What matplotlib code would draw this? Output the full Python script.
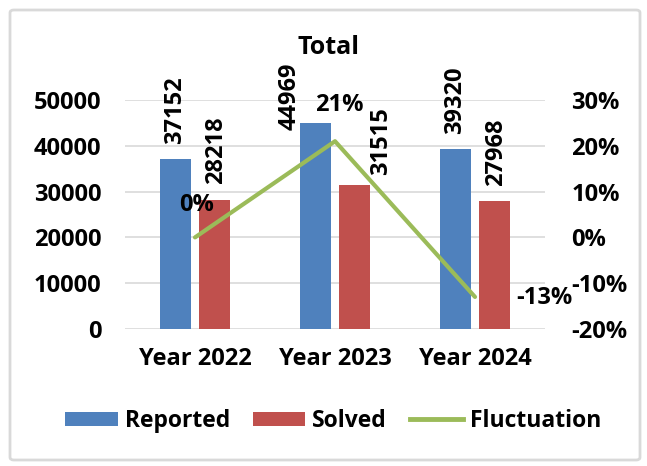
import matplotlib
matplotlib.use("Agg")
import matplotlib.pyplot as plt
import numpy as np
from matplotlib.patches import FancyBboxPatch, Patch
from matplotlib.lines import Line2D

plt.rcParams['font.family'] = ['Open Sans', 'DejaVu Sans']
plt.rcParams['font.weight'] = 'bold'

# Data
categories = ["Year 2022", "Year 2023", "Year 2024"]
reported = [37152, 44969, 39320]
solved = [28218, 31515, 27968]
fluctuation = [0.0, 0.21, -0.13]
fluct_labels = ["0%", "21%", "-13%"]
left_ticks = [0, 10000, 20000, 30000, 40000, 50000]
right_ticks = [-0.2, -0.1, 0.0, 0.1, 0.2, 0.3]

BLUE = "#4F81BD"
RED = "#C0504D"
GREEN = "#9BBB59"
GRID = "#D9D9D9"
FS = 17

fig = plt.figure(figsize=(6.47, 4.66), dpi=100)
fig.patch.set_facecolor("white")

# rounded chart-area border
frame = FancyBboxPatch((10 / 647, 6 / 466), 630 / 647, 450 / 466,
                       boxstyle="round,pad=0,rounding_size=0.006",
                       transform=fig.transFigure, facecolor="none",
                       edgecolor="#D9D9D9", linewidth=2, zorder=-1)
fig.patches.append(frame)

ax = fig.add_axes([125 / 647, 137 / 466, 420 / 647, 229 / 466])
ax.set_facecolor("none")
x = np.arange(len(categories))
w = 0.22
off = 0.139

ax.bar(x - off, reported, w, color=BLUE, label="Reported", zorder=3)
ax.bar(x + off, solved, w, color=RED, label="Solved", zorder=3)

ax.set_xlim(-0.5, len(categories) - 0.5)
ax.set_ylim(0, 50000)
ax.set_yticks(left_ticks)
ax.set_yticklabels([str(t) for t in left_ticks], fontsize=FS, fontweight="bold")
ax.set_xticks(x)
ax.set_xticklabels(categories, fontsize=FS, fontweight="bold")
ax.tick_params(axis="y", length=0, pad=17)
ax.tick_params(axis="x", length=0, pad=13)
ax.grid(axis="y", color=GRID, linewidth=1.2, zorder=0)
for s in ax.spines.values():
    s.set_visible(False)

# bar value labels (rotated); the 2023 pair is nudged sideways
rep_shift = [(0, 11), (-19, -5), (0, 11)]
sol_shift = [(1, 11), (19, 7), (1, 11)]
for i, v in enumerate(reported):
    ax.annotate(str(v), (x[i] - off, v), xytext=rep_shift[i], textcoords="offset points",
                rotation=90, ha="center", va="bottom", fontsize=FS, fontweight="bold", zorder=5)
for i, v in enumerate(solved):
    ax.annotate(str(v), (x[i] + off, v), xytext=sol_shift[i], textcoords="offset points",
                rotation=90, ha="center", va="bottom", fontsize=FS, fontweight="bold", zorder=5)

# secondary axis for fluctuation
ax2 = ax.twinx()
ax2.set_ylim(-0.2, 0.3)
ax2.set_yticks(right_ticks)
ax2.set_yticklabels([f"{round(t * 100)}%" for t in right_ticks], fontsize=FS, fontweight="bold")
ax2.tick_params(axis="y", length=0, pad=19)
for s in ax2.spines.values():
    s.set_visible(False)
ax2.plot(x, fluctuation, color=GREEN, linewidth=3, solid_capstyle="round", zorder=4)

fl_off = [(1, 23), (3, 26), (50, -1)]
for i, (v, lab) in enumerate(zip(fluctuation, fluct_labels)):
    ax2.annotate(lab, (x[i], v), xytext=fl_off[i], textcoords="offset points",
                 ha="center", va="center", fontsize=FS, fontweight="bold")

fig.text(329 / 647, 1 - 47 / 466, "Total", ha="center", va="center",
         fontsize=18, fontweight="bold")

handles = [Patch(facecolor=BLUE, label="Reported"),
           Patch(facecolor=RED, label="Solved"),
           Line2D([0], [0], color=GREEN, linewidth=3.5, label="Fluctuation")]
fig.legend(handles=handles, loc="center", bbox_to_anchor=(333 / 647, 1 - 421 / 466),
           ncol=3, frameon=False, handlelength=2.3, handleheight=0.6,
           handletextpad=0.3, columnspacing=1.0, prop={"weight": "bold", "size": 16.5})

fig.savefig("out.png", dpi=100, facecolor="white")
